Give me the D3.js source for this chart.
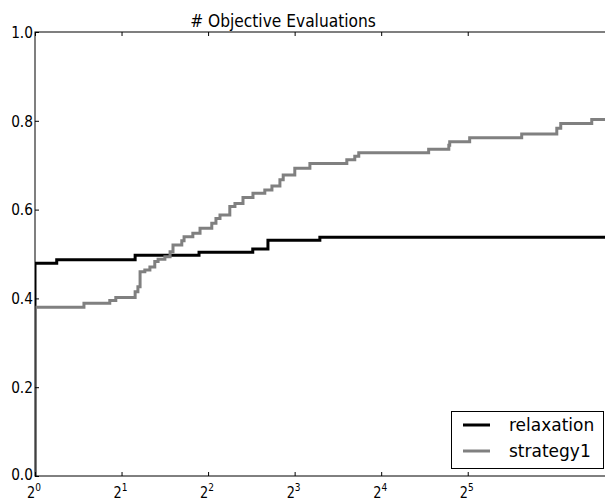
<!DOCTYPE html>
<html><head><meta charset="utf-8">
<script src="https://cdn.jsdelivr.net/npm/d3@7/dist/d3.min.js"></script>
<style>body{margin:0;background:#fff}svg{display:block}text{font-family:"DejaVu Sans",sans-serif;fill:#000}</style>
</head><body>
<script>
const titleText = "# Objective Evaluations";
const seriesNames = ["relaxation", "strategy1"];
const relaxX = [1, 1, 1.19, 2.23, 3.72, 5.72, 6.46, 9.79, 100];
const relaxY = [0, 0.479, 0.487, 0.497, 0.504, 0.511, 0.531, 0.538, 0.538];
const strategyX = [1,1,1.48,1.82,1.91,2.23,2.28,2.32,2.41,2.51,2.61,2.68,2.83,2.95,3.02,3.24,3.30,3.54,3.75,4.12,4.26,4.40,4.76,4.96,5.29,5.73,6.30,6.67,7.11,7.30,8.01,9.04,12.15,12.95,13.37,23.4,27.5,27.7,32.5,49.3,65.3,67.4,86.4,100];
const strategyY = [0,0.380,0.389,0.395,0.402,0.415,0.426,0.460,0.464,0.471,0.483,0.488,0.494,0.505,0.520,0.530,0.539,0.547,0.558,0.569,0.580,0.588,0.607,0.614,0.627,0.637,0.644,0.653,0.667,0.678,0.693,0.704,0.712,0.720,0.728,0.736,0.745,0.753,0.762,0.770,0.783,0.794,0.803,0.803];
const xTickExps = [0, 1, 2, 3, 4, 5];
const yTicks = [0, 0.2, 0.4, 0.6, 0.8, 1.0];
const colors = ["#000000", "#808080"];

const W = 605, H = 502;
const L = 35, R = 610, T = 32, B = 476;
const SQ = 0.86;
const svg = d3.select("body").append("svg").attr("width", W).attr("height", H);
const x = d3.scaleLog().base(2).domain([1, 100]).range([L, R]);
const y = d3.scaleLinear().domain([0, 1]).range([B, T]);

svg.append("defs").append("clipPath").attr("id", "clip")
  .append("rect").attr("x", L).attr("y", T - 2).attr("width", R - L).attr("height", B - T + 4);

const line = d3.line().x(d => x(d[0])).y(d => y(d[1])).curve(d3.curveStepAfter);
const series = [d3.zip(relaxX, relaxY), d3.zip(strategyX, strategyY)];
const plot = svg.append("g").attr("clip-path", "url(#clip)");
series.forEach((s, i) => {
  plot.append("path").datum(s).attr("d", line)
    .attr("fill", "none").attr("stroke", colors[i]).attr("stroke-width", 3)
    .attr("stroke-linejoin", "miter").attr("stroke-linecap", "butt");
});

// frame
svg.append("rect").attr("x", L).attr("y", T).attr("width", R - L).attr("height", B - T)
  .attr("fill", "none").attr("stroke", "#000").attr("stroke-width", 1);

const xTickVals = xTickExps.map(e => Math.pow(2, e));
svg.append("g").attr("transform", `translate(0,${B})`)
  .call(d3.axisBottom(x).tickValues(xTickVals).tickSize(-4).tickFormat(""))
  .call(g => g.select(".domain").remove());
svg.append("g").attr("transform", `translate(0,${T})`)
  .call(d3.axisTop(x).tickValues(xTickVals).tickSize(-4).tickFormat(""))
  .call(g => g.select(".domain").remove());
svg.append("g").attr("transform", `translate(${L},0)`)
  .call(d3.axisLeft(y).tickValues(yTicks).tickSize(-4).tickFormat(""))
  .call(g => g.select(".domain").remove());
svg.append("g").attr("transform", `translate(${R},0)`)
  .call(d3.axisRight(y).tickValues(yTicks).tickSize(-4).tickFormat(""))
  .call(g => g.select(".domain").remove());

function sqText(px, py, anchor, size) {
  return svg.append("g").attr("transform", `translate(${px},${py}) scale(${SQ},1)`)
    .append("text").attr("text-anchor", anchor).style("font-size", size + "px");
}

// y tick labels
const fmt = d3.format(".1f");
yTicks.forEach(v => {
  sqText(L - 2, y(v) - (v === 0 ? 2 : 0), "end", 16).attr("dy", "0.36em").text(fmt(v));
});

// x tick labels 2^k
xTickExps.forEach(e => {
  const t = sqText(x(Math.pow(2, e)) - 1, 497.5, "middle", 15);
  t.append("tspan").text("2");
  t.append("tspan").attr("dy", -7).style("font-size", "10.5px").text(e);
});

sqText(283, 26.5, "middle", 18).text(titleText);

// legend
const lg = svg.append("g");
lg.append("rect").attr("x", 451.5).attr("y", 411.5).attr("width", 152).attr("height", 57)
  .attr("fill", "#fff").attr("stroke", "#000").attr("stroke-width", 1);
seriesNames.forEach((n, i) => {
  const yy = 425 + i * 26;
  lg.append("line").attr("x1", 463).attr("x2", 490).attr("y1", yy).attr("y2", yy)
    .attr("stroke", colors[i]).attr("stroke-width", 3);
  lg.append("text").attr("x", 509).attr("y", yy).attr("dy", "0.35em")
    .style("font-size", "17px").text(n);
});
</script>
</body></html>
